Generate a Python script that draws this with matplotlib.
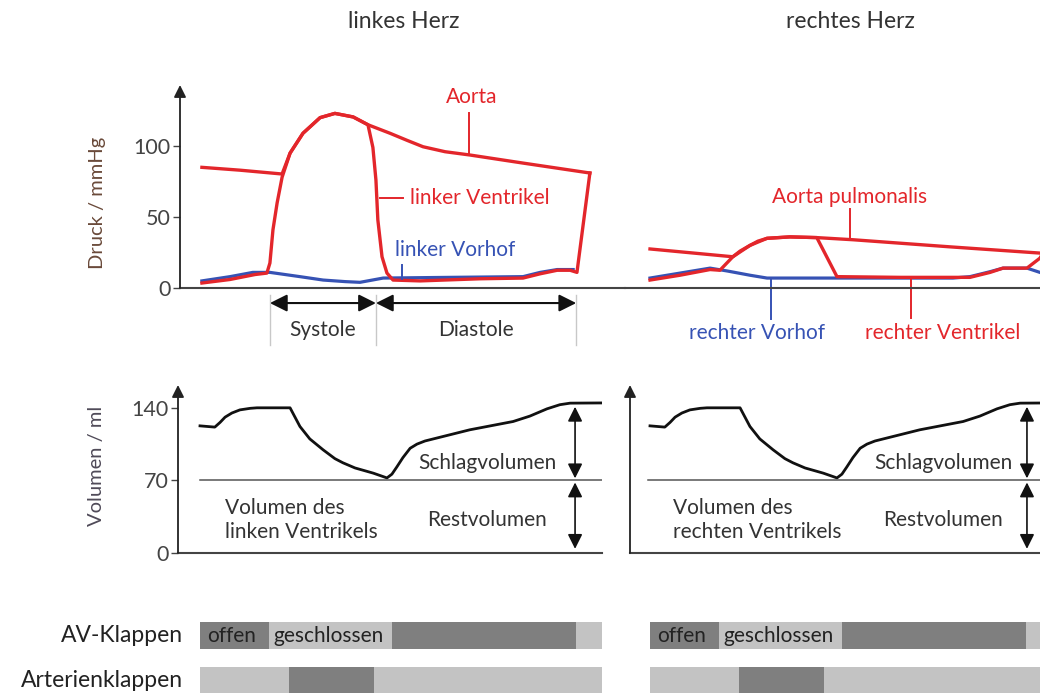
import numpy as np
import matplotlib
matplotlib.use("Agg")
from matplotlib import pyplot as plt

plt.rcParams['font.family'] = ['Lato', 'DejaVu Sans']

# time axis: arbitrary units, 0 = start of the drawn cycle
# ---- left heart pressure (mmHg)
t_aorta = [0.5, 10.5, 21.6, 23.7, 27.1, 31.6, 35.5, 40.3, 44.2, 50, 54.5, 58.7, 64.5,
           71, 85, 102.6]
p_aorta = [85, 83, 80.3, 95, 109, 120, 123, 120.5, 115, 109, 104, 99.5, 96,
           93.7, 88, 81]
t_lv = [0.5, 7.9, 14.5, 17.6, 18.4, 19.2, 20.3, 21.6, 23.7, 27.1, 31.6, 35.5, 40.3,
        44.2, 45.5, 46.3, 46.8, 47.9, 49.2, 50.8, 57.9, 73.7, 85, 89.5, 94, 97.4, 99.2,
        102.6]
p_lv = [3.5, 6, 9.5, 10.5, 17.6, 41, 60, 78, 95, 109, 120, 123, 120.5,
        115, 99, 76, 48, 22, 10.5, 5.6, 5, 6.5, 7, 10, 12.5, 12.5, 11,
        81]
t_la = [0.5, 7.9, 13.9, 18.4, 26.3, 32.4, 38.2, 42.1, 48.2, 65.8, 85, 89.5, 94, 98.2]
p_la = [5, 8, 11, 11, 8, 5.6, 4.5, 4, 7, 7.5, 8, 11, 13, 13]

# ---- right heart pressure (mmHg)
t_pa = [0, 21.8, 26.3, 30.8, 36.8, 43.9, 53.4, 78.9, 102.6, 108]
p_pa = [27.5, 22, 30, 35, 36, 35.5, 34, 29, 24.6, 24]
t_rv = [0, 7.9, 15.8, 18.4, 21.8, 23.7, 26.3, 28.4, 30.8, 36.8, 43.9, 49.2, 65.8, 84.2,
        89.5, 92.9, 99.2, 102.6, 104]
p_rv = [5.6, 9, 13, 12.5, 22, 26, 30, 33, 35, 36, 35.5, 8, 7.5, 7.5,
        11, 14, 14, 21, 27]
t_ra = [0, 7.9, 15.8, 20.3, 26.3, 30.8, 52.6, 79.7, 84.2, 89.5, 92.9, 99.2, 102.6, 105]
p_ra = [7, 10.5, 14, 12, 9, 7, 7, 7, 8, 11.5, 14, 14, 11, 9]

# ---- ventricular volume (ml), same for both sides
t_vol = [0, 3.9, 5.3, 6.6, 8.4, 10.5, 13.2, 15, 23.7, 25, 26.3, 28.9, 32.4, 35.5, 37.6,
         40.8, 45.6, 49.2, 50.5, 51.8, 53.4, 55.3, 57.1, 59.2, 71, 82.4, 86.8, 91.3, 94.7,
         97.4, 110]
v_vol = [122.6, 121.4, 126, 131, 135, 138, 139.5, 140, 140, 131, 122, 110, 99.5, 91, 87,
         82, 77, 72.4, 76, 83, 92, 101, 105, 108, 118.8, 126.8, 132, 139, 143,
         144.5, 144.8]
vol_ticks = [0, 70, 140]
p_ticks = [0, 50, 100]

# ---- valve states: (start, end, open?)
av_valve = [(0, 18.2, True), (18.2, 50.5, False), (50.5, 98.9, True), (98.9, 130, False)]
art_valve = [(0, 23.4, False), (23.4, 45.9, True), (45.9, 130, False)]

systole = (18.4, 46.3)
diastole = (46.3, 99)

RED = '#e3262b'
BLUE = '#3652b4'
DARK = '#7f7f7f'
LIGHT = '#c3c3c3'
TXT = '#333333'
FS = 15

W, H = 1040, 693
PXT = 3.8  # pixels per time unit
fig = plt.figure(figsize=(W / 100, H / 100), dpi=100)


def add_ax(x0, x1, y0, y1, org):
    ax = fig.add_axes([x0 / W, 1 - y1 / H, (x1 - x0) / W, (y1 - y0) / H])
    ax.set_xlim((x0 - org) / PXT, (x1 - org) / PXT)
    ax.patch.set_visible(False)
    for s in ax.spines.values():
        s.set_visible(False)
    return ax


def up_arrow(ax):
    ax.annotate('', xy=(0, 1), xycoords='axes fraction', xytext=(0, 0),
                arrowprops=dict(arrowstyle='-|>', color='#222222', lw=1.3,
                                mutation_scale=18, shrinkA=0, shrinkB=0))


def dbl_arrow(ax, x0, y0, x1, y1, ms=22, lw=1.2):
    ax.annotate('', xy=(x1, y1), xytext=(x0, y0), annotation_clip=False,
                arrowprops=dict(arrowstyle='<|-|>', color='#111111', lw=lw,
                                mutation_scale=ms, shrinkA=0, shrinkB=0))


# ================= pressure panels
axp_l = add_ax(180, 625, 85, 288, 200)
axp_r = add_ax(625, 1060, 85, 288, 650)
for ax in (axp_l, axp_r):
    ax.set_ylim(0, 143)
    ax.spines['bottom'].set_visible(True)
    ax.spines['bottom'].set_color('#444444')
    ax.spines['bottom'].set_linewidth(1.5)
    ax.set_xticks([])

axp_l.set_yticks(p_ticks)
axp_l.tick_params(axis='y', length=5, width=1, color='#444444', labelsize=15.5,
                  labelcolor='#444444', pad=2)
axp_r.set_yticks([])
up_arrow(axp_l)
axp_l.set_ylabel('Druck / mmHg', fontsize=14.5, color='#6a4a3a')
axp_l.yaxis.set_label_coords(-0.166, 0.42)

axp_l.plot(t_la, p_la, color=BLUE, lw=2.3)
axp_l.plot(t_aorta, p_aorta, color=RED, lw=2.4)
axp_l.plot(t_lv, p_lv, color=RED, lw=2.4)
axp_r.plot(t_ra, p_ra, color=BLUE, lw=2.3)
axp_r.plot(t_pa, p_pa, color=RED, lw=2.4)
axp_r.plot(t_rv, p_rv, color=RED, lw=2.4)

# labels with leader lines, left
axp_l.text(71.6, 134.5, 'Aorta', color=RED, fontsize=FS, ha='center', va='center')
axp_l.plot([70.8, 70.8], [123, 95], color=RED, lw=1.4)
axp_l.text(55.3, 63.4, 'linker Ventrikel', color=RED, fontsize=FS, ha='left', va='center')
axp_l.plot([47.4, 53.4], [63.4, 63.4], color=RED, lw=1.4)
axp_l.text(51.3, 26.8, 'linker Vorhof', color=BLUE, fontsize=FS, ha='left', va='center')
axp_l.plot([53.2, 53.2], [16, 6], color=BLUE, lw=1.4)

# systole / diastole
for tx in (systole[0], systole[1], diastole[1]):
    axp_l.plot([tx, tx], [-5, -40], color='#c8c8c8', lw=1, clip_on=False)
for a, b in (systole, diastole):
    dbl_arrow(axp_l, a, -10.6, b, -10.6, ms=26, lw=1.5)
axp_l.text(sum(systole) / 2, -29.6, 'Systole', fontsize=FS, color=TXT, ha='center', va='center')
axp_l.text(sum(diastole) / 2, -29.6, 'Diastole', fontsize=FS, color=TXT, ha='center', va='center')

# labels right
axp_r.text(52.6, 64, 'Aorta pulmonalis', color=RED, fontsize=FS, ha='center', va='center')
axp_r.plot([52.6, 52.6], [56, 34], color=RED, lw=1.4)
axp_r.text(28.2, -31.7, 'rechter Vorhof', color=BLUE, fontsize=FS, ha='center', va='center')
axp_r.plot([31.8, 31.8], [7, -22], color=BLUE, lw=1.4, clip_on=False)
axp_r.text(77.1, -31.7, 'rechter Ventrikel', color=RED, fontsize=FS, ha='center', va='center')
axp_r.plot([68.7, 68.7], [6, -21], color=RED, lw=1.4, clip_on=False)

# ================= volume panels
axv_l = add_ax(178, 602, 385, 553, 200)
axv_r = add_ax(630, 1060, 385, 553, 650)
for ax in (axv_l, axv_r):
    ax.set_ylim(0, 162)
    ax.spines['bottom'].set_visible(True)
    ax.spines['bottom'].set_color('#444444')
    ax.spines['bottom'].set_linewidth(1.5)
    ax.set_xticks([])
    up_arrow(ax)
    ax.plot(t_vol, v_vol, color='#111111', lw=2)

axv_l.set_yticks(vol_ticks)
axv_l.tick_params(axis='y', length=5, width=1, color='#444444', labelsize=15.5,
                  labelcolor='#444444', pad=2)
axv_r.set_yticks([])
axv_l.set_ylabel('Volumen / ml', fontsize=14.5, color='#4f4a58')
axv_l.yaxis.set_label_coords(-0.172, 0.52)

axv_l.plot([0, 110], [70, 70], color='#555555', lw=1.1)
axv_r.plot([-0.5, 110], [70, 70], color='#555555', lw=1.1)

axv_l.text(75.5, 87, 'Schlagvolumen', fontsize=FS, color=TXT, ha='center', va='center')
axv_l.text(75.5, 32, 'Restvolumen', fontsize=FS, color=TXT, ha='center', va='center')
axv_l.text(6.6, 32, 'Volumen des\nlinken Ventrikels', fontsize=FS, color=TXT,
           ha='left', va='center', linespacing=1.25)
dbl_arrow(axv_l, 98.7, 72, 98.7, 141)
dbl_arrow(axv_l, 98.7, 4, 98.7, 68)

axv_r.text(77.1, 87, 'Schlagvolumen', fontsize=FS, color=TXT, ha='center', va='center')
axv_r.text(77.1, 32, 'Restvolumen', fontsize=FS, color=TXT, ha='center', va='center')
axv_r.text(6.0, 32, 'Volumen des\nrechten Ventrikels', fontsize=FS, color=TXT,
           ha='left', va='center', linespacing=1.25)
dbl_arrow(axv_r, 99.2, 72, 99.2, 141)
dbl_arrow(axv_r, 99.2, 4, 99.2, 68)

# ================= valve bars
axb_l = add_ax(180, 602, 613, 703, 200)
axb_r = add_ax(625, 1060, 613, 703, 650)
for ax, tend in ((axb_l, 105.8), (axb_r, 130)):
    ax.set_ylim(2, 0)
    ax.set_xticks([])
    ax.set_yticks([])
    for a, b, op in av_valve:
        ax.barh(0.5, min(b, tend) - a, left=a, height=0.6, color=DARK if op else LIGHT)
    for a, b, op in art_valve:
        ax.barh(1.5, min(b, tend) - a, left=a, height=0.6, color=DARK if op else LIGHT)
    ax.text(1.8, 0.5, 'offen', fontsize=FS, color='#222222', va='center', ha='left')
    ax.text(19.2, 0.5, 'geschlossen', fontsize=FS, color='#222222', va='center', ha='left')

axb_l.text(-4.5, 0.5, 'AV-Klappen', fontsize=16.5, color='#222222', ha='right', va='center')
axb_l.text(-4.5, 1.5, 'Arterienklappen', fontsize=16.5, color='#222222', ha='right', va='center')

fig.text(404 / W, 1 - 22 / H, 'linkes Herz', fontsize=16.5, color=TXT, ha='center', va='center')
fig.text(850 / W, 1 - 22 / H, 'rechtes Herz', fontsize=16.5, color=TXT, ha='center', va='center')

fig.savefig('out.png', dpi=100)
